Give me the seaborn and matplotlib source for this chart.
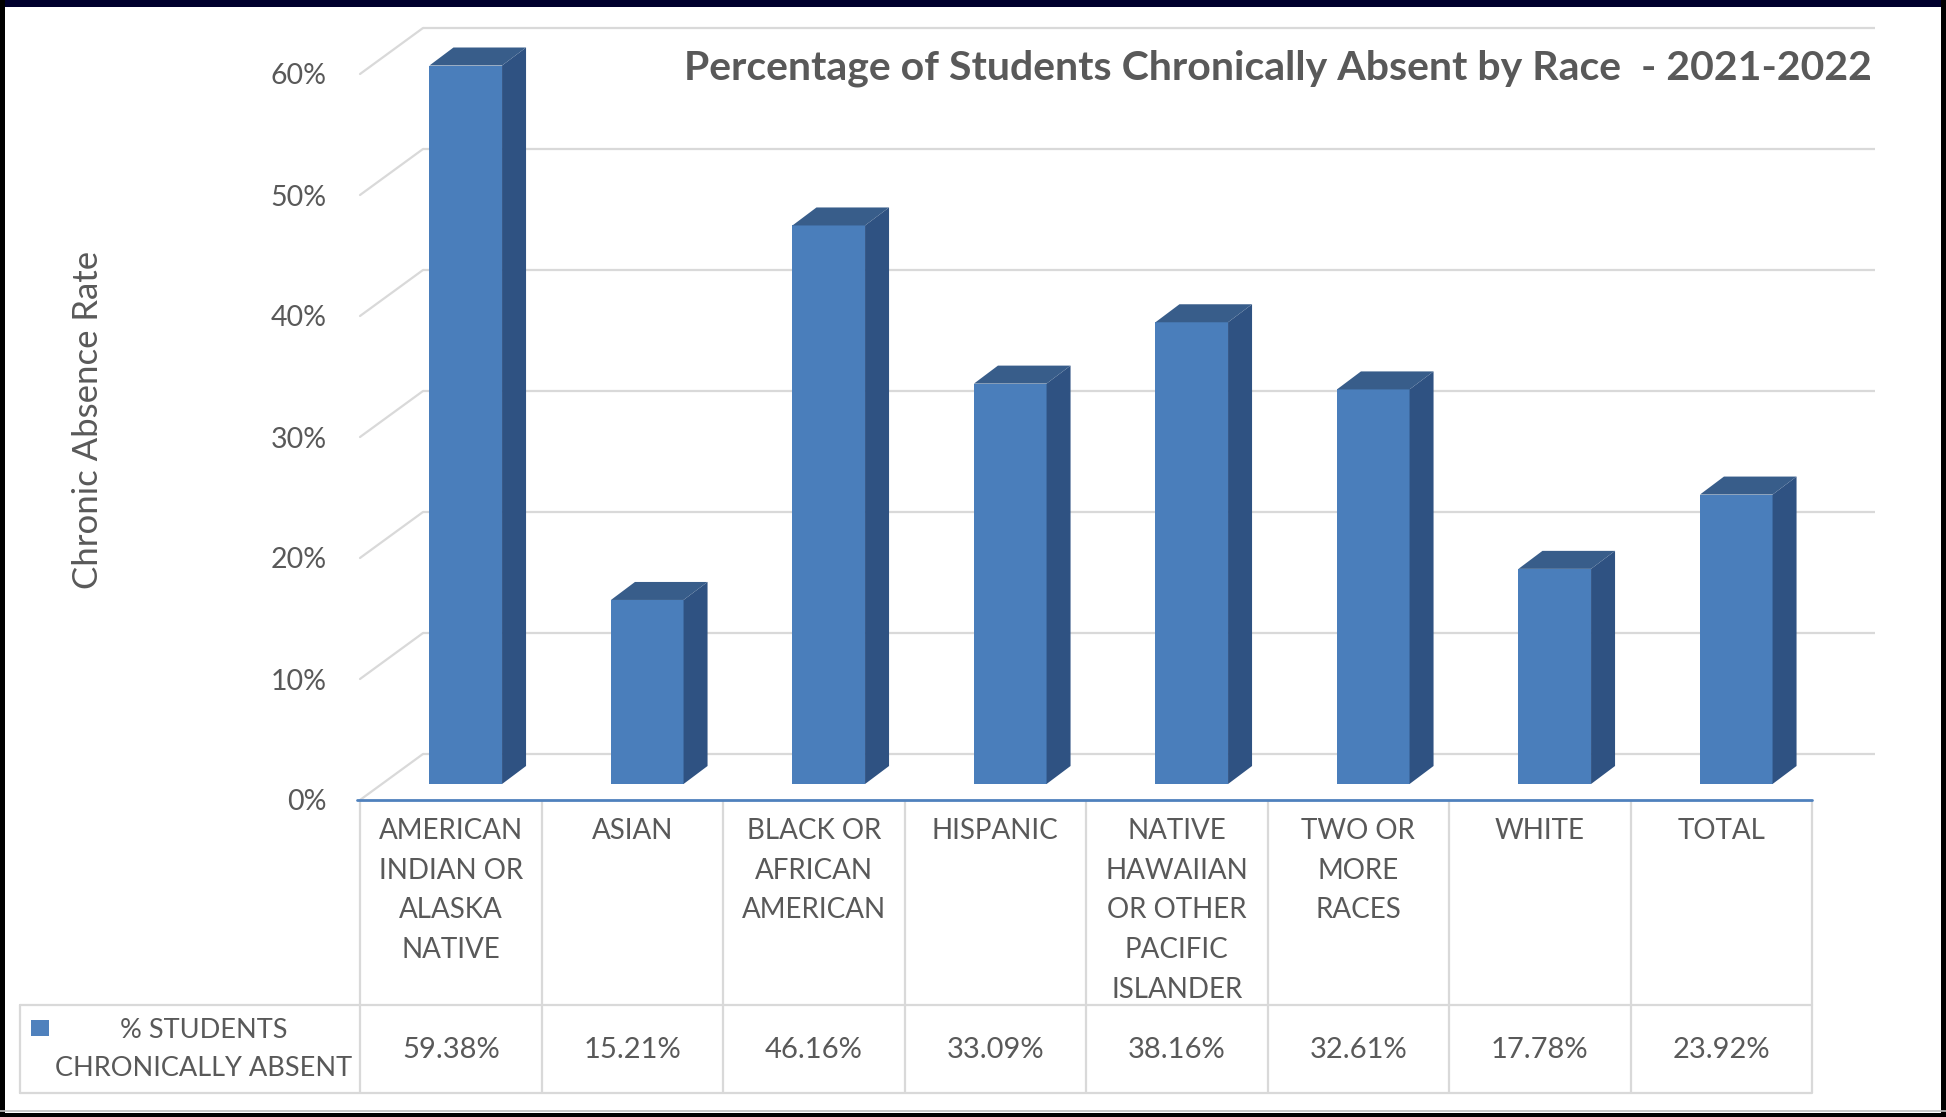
import matplotlib
matplotlib.use("Agg")
import matplotlib.pyplot as plt
from matplotlib.lines import Line2D
from matplotlib.patches import Polygon, Rectangle
import seaborn as sns

# ---- data ----
categories = [
    "AMERICAN\nINDIAN OR\nALASKA\nNATIVE",
    "ASIAN",
    "BLACK OR\nAFRICAN\nAMERICAN",
    "HISPANIC",
    "NATIVE\nHAWAIIAN\nOR OTHER\nPACIFIC\nISLANDER",
    "TWO OR\nMORE\nRACES",
    "WHITE",
    "TOTAL",
]
pct_absent = [59.38, 15.21, 46.16, 33.09, 38.16, 32.61, 17.78, 23.92]
y_ticks = [0, 10, 20, 30, 40, 50, 60]
series_name = "% STUDENTS\nCHRONICALLY ABSENT"
title = "Percentage of Students Chronically Absent by Race  - 2021-2022"
y_label = "Chronic Absence Rate"

# ---- style ----
sns.set_theme(style="white")
plt.rcParams["font.family"] = ["Lato", "DejaVu Sans"]

TEXT = "#595959"
GRID = "#d9d9d9"
FRONT = "#4a7ebb"
SIDE = "#2f5282"
TOP = "#385d8a"
AXIS_BLUE = "#4f81bd"

W, H = 1946, 1117
fig = plt.figure(figsize=(W / 100, H / 100), dpi=100)
fig.patch.set_facecolor("white")


def rect(left, top, width, height):
    """Axes rectangle from pixel geometry (origin at top-left)."""
    return [left / W, 1 - (top + height) / H, width / W, height / H]


# front plane of the 3-D box, back wall, and the plane holding the bars
PL_LEFT, PL_TOP, PL_W, PL_H = 360, 74, 1452, 726
DEPTH = (63, 46)
BAR_SHIFT = (15, 16)
BAR_DEPTH = (24, 18)

ax_back = fig.add_axes(rect(PL_LEFT + DEPTH[0], PL_TOP - DEPTH[1], PL_W, PL_H), zorder=0)
ax_bar = fig.add_axes(rect(PL_LEFT + BAR_SHIFT[0], PL_TOP - BAR_SHIFT[1], PL_W, PL_H), zorder=1)
ax = fig.add_axes(rect(PL_LEFT, PL_TOP, PL_W, PL_H), zorder=2)

n = len(categories)
for a in (ax_back, ax_bar, ax):
    a.set_xlim(-0.5, n - 0.5)
    a.set_ylim(0, 60)
    a.patch.set_alpha(0)
    for s in a.spines.values():
        s.set_visible(False)
    a.set_xticks([])
    a.set_yticks([])
    a.set_xlabel("")
    a.set_ylabel("")

# back-wall gridlines
ax_back.hlines(y_ticks, -0.5, n - 0.5, colors=GRID, linewidth=1.6, clip_on=False)

# side-wall diagonals joining the front tick positions to the back wall
to_fig = fig.transFigure.inverted()
for t in y_ticks:
    p0 = to_fig.transform(ax.transData.transform((-0.5, t)))
    p1 = to_fig.transform(ax_back.transData.transform((-0.5, t)))
    fig.add_artist(Line2D([p0[0], p1[0]], [p0[1], p1[1]], color=GRID,
                          linewidth=1.6, transform=fig.transFigure, zorder=0.5))

# bars: front faces via seaborn, then side and top faces
sns.barplot(x=list(range(n)), y=pct_absent, color=FRONT, saturation=1,
            width=0.4, ax=ax_bar, zorder=2)
ax_bar.set_xlim(-0.5, n - 0.5)
ax_bar.set_ylim(0, 60)
ax_bar.set_xticks([])
ax_bar.set_yticks([])
ax_bar.set_xlabel("")
ax_bar.set_ylabel("")

bb = ax_bar.get_window_extent()
ddx = BAR_DEPTH[0] / (bb.width / n)
ddy = BAR_DEPTH[1] / (bb.height / 60)
for p in ax_bar.patches:
    x0, w, h = p.get_x(), p.get_width(), p.get_height()
    p.set_edgecolor("none")
    side = Polygon([(x0 + w, 0), (x0 + w, h), (x0 + w + ddx, h + ddy), (x0 + w + ddx, ddy)],
                   closed=True, facecolor=SIDE, edgecolor="none", clip_on=False, zorder=2)
    top = Polygon([(x0, h), (x0 + w, h), (x0 + w + ddx, h + ddy), (x0 + ddx, h + ddy)],
                  closed=True, facecolor=TOP, edgecolor="none", clip_on=False, zorder=2)
    ax_bar.add_patch(side)
    ax_bar.add_patch(top)

# value axis labels on the front plane
ax.set_yticks(y_ticks)
ax.set_yticklabels([f"{t}%" for t in y_ticks], color=TEXT, fontsize=20.5)
ax.tick_params(axis="y", length=0, pad=24)

# ---- data table under the plot ----
tab = fig.add_axes([0, 0, 1, 1], zorder=3)
tab.set_xlim(0, W)
tab.set_ylim(H, 0)
tab.axis("off")
tab.patch.set_alpha(0)

bounds = [ax.transData.transform((i - 0.5, 0))[0] for i in range(n + 1)]
centers = [ax.transData.transform((i, 0))[0] for i in range(n)]
ROW_TOP, ROW_MID, ROW_BOT, LEG_LEFT = 800, 1005, 1093, 20

for b in bounds:
    tab.plot([b, b], [ROW_TOP, ROW_BOT], color=GRID, linewidth=1.6, solid_capstyle="butt")
tab.plot([LEG_LEFT, bounds[-1]], [ROW_MID, ROW_MID], color=GRID, linewidth=1.6)
tab.plot([LEG_LEFT, bounds[-1]], [ROW_BOT, ROW_BOT], color=GRID, linewidth=1.6)
tab.plot([LEG_LEFT, LEG_LEFT], [ROW_MID, ROW_BOT], color=GRID, linewidth=1.6)
tab.plot([bounds[0] - 3, bounds[-1]], [ROW_TOP, ROW_TOP], color=AXIS_BLUE, linewidth=2.0)

for cx, cat, v in zip(centers, categories, pct_absent):
    tab.text(cx, 818, cat, ha="center", va="top", fontsize=20, color=TEXT,
             linespacing=1.65)
    tab.text(cx, 1050, f"{v:.2f}%", ha="center", va="center", fontsize=21, color=TEXT)

tab.add_patch(Rectangle((31, 1020), 18, 16, facecolor=AXIS_BLUE, edgecolor="none"))
tab.text(204, 1049, series_name, ha="center", va="center", fontsize=19.5,
         color=TEXT, linespacing=1.65)

# ---- titles ----
fig.text(684 / W, 1 - 68 / H, title, ha="left", va="center", fontsize=29.5,
         fontweight="bold", color=TEXT)
fig.text(88 / W, 1 - 420 / H, y_label, ha="center", va="center", rotation=90,
         fontsize=25, color=TEXT)

# ---- outer frame ----
tab.add_patch(Rectangle((0, 0), W, 7, facecolor="#00002e", edgecolor="none", clip_on=False))
tab.add_patch(Rectangle((0, 0), 5, H, facecolor="black", edgecolor="none", clip_on=False))
tab.add_patch(Rectangle((W - 5, 0), 5, H, facecolor="black", edgecolor="none", clip_on=False))
tab.add_patch(Rectangle((0, H - 4), W, 4, facecolor="black", edgecolor="none", clip_on=False))
tab.plot([0, W], [H - 6, H - 6], color="#bfbfbf", linewidth=1.2)

fig.savefig("out.png", dpi=100)
